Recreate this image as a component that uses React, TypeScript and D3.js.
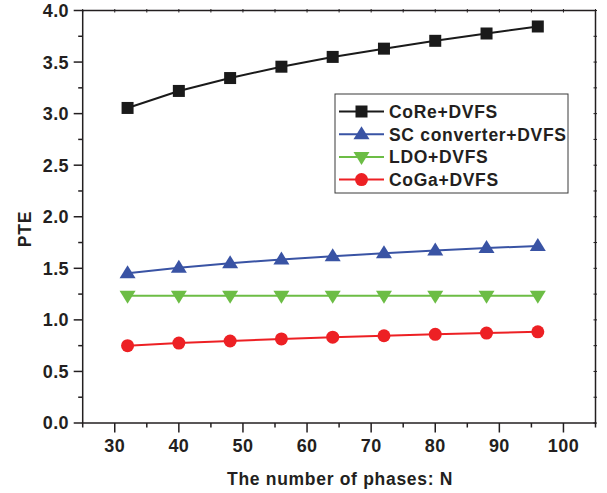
import React from "react";
import * as d3 from "d3";

const phases = [32, 40, 48, 56, 64, 72, 80, 88, 96];
const coreDvfs = [3.055, 3.22, 3.345, 3.455, 3.55, 3.63, 3.706, 3.777, 3.845];
const scDvfs = [1.453, 1.505, 1.55, 1.585, 1.618, 1.647, 1.673, 1.697, 1.717];
const ldoDvfs = [1.235, 1.235, 1.235, 1.235, 1.235, 1.235, 1.235, 1.235, 1.235];
const cogaDvfs = [0.75, 0.775, 0.795, 0.815, 0.832, 0.846, 0.86, 0.872, 0.884];
const xTicks = [30, 40, 50, 60, 70, 80, 90, 100];
const yTicks = [0, 0.5, 1, 1.5, 2, 2.5, 3, 3.5, 4];
const seriesNames = ["CoRe+DVFS", "SC converter+DVFS", "LDO+DVFS", "CoGa+DVFS"];

const W = 607;
const H = 493;
const L = 82.7, R = 595.5, T = 10.5, B = 423;
const FONT = "'Liberation Sans', Arial, Helvetica, sans-serif";
const AX = "#231f20";

type Shape = "square" | "up" | "down" | "circle";
const series: { name: string; values: number[]; color: string; shape: Shape }[] = [
  { name: seriesNames[0], values: coreDvfs, color: "#1a1a1a", shape: "square" },
  { name: seriesNames[1], values: scDvfs, color: "#3953a4", shape: "up" },
  { name: seriesNames[2], values: ldoDvfs, color: "#6cbd45", shape: "down" },
  { name: seriesNames[3], values: cogaDvfs, color: "#ed2024", shape: "circle" },
];

function Marker({ shape, x, y, color }: { shape: Shape; x: number; y: number; color: string }) {
  if (shape === "square") return <rect x={x - 6} y={y - 6} width={12} height={12} fill={color} />;
  if (shape === "circle") return <circle cx={x} cy={y} r={6.5} fill={color} />;
  if (shape === "up")
    return <path d={`M${x},${y - 8}L${x + 8},${y + 5}L${x - 8},${y + 5}Z`} fill={color} />;
  return <path d={`M${x},${y + 8}L${x + 8},${y - 5}L${x - 8},${y - 5}Z`} fill={color} />;
}

export default function App() {
  const x = d3.scaleLinear().domain([25, 105]).range([L, R]);
  const y = d3.scaleLinear().domain([0, 4]).range([B, T]);
  const xMinor = d3.range(25, 106, 5);
  const yMinor = d3.range(0, 4.01, 0.25);
  const line = d3
    .line<number>()
    .x((_, i) => x(phases[i]))
    .y((d) => y(d));

  const legX = 335, legY = 94, legW = 233, legH = 99;
  const legRow0 = 111.5, legStep = 22.7;

  return (
    <svg
      width={W}
      height={H}
      style={{ position: "absolute", left: 0, top: 0, background: "#fff" }}
      fontFamily={FONT}
    >
      <rect x={L} y={T} width={R - L} height={B - T} fill="none" stroke={AX} strokeWidth={1.5} />
      {yMinor.map((v) => {
        const major = Math.abs(v * 2 - Math.round(v * 2)) < 1e-6;
        return (
          <g key={"yl" + v}>
            <line x1={L} x2={L - (major ? 9 : 4.5)} y1={y(v)} y2={y(v)} stroke={AX} strokeWidth={1.5} />
            <line x1={R - 2} x2={R + 1.5} y1={y(v)} y2={y(v)} stroke={AX} strokeWidth={1} />
          </g>
        );
      })}
      {yTicks.map((v) => (
        <text
          key={"yt" + v}
          x={69}
          y={y(v)}
          dy="0.36em"
          textAnchor="end"
          fontSize={18}
          fontWeight="bold"
          letterSpacing={0.4}
          fill={AX}
        >
          {d3.format(".1f")(v)}
        </text>
      ))}
      {xMinor.map((v) => {
        const major = v % 10 === 0;
        return (
          <g key={"xb" + v}>
            <line x1={x(v)} x2={x(v)} y1={B} y2={B + (major ? 9.5 : 4.5)} stroke={AX} strokeWidth={1.5} />
            <line x1={x(v)} x2={x(v)} y1={T - 1.5} y2={T + 2} stroke={AX} strokeWidth={1} />
          </g>
        );
      })}
      {xTicks.map((v) => (
        <text
          key={"xt" + v}
          x={x(v)}
          y={452}
          textAnchor="middle"
          fontSize={18}
          fontWeight="bold"
          letterSpacing={0.4}
          fill={AX}
        >
          {v}
        </text>
      ))}
      <text
        x={(L + R) / 2 + 1}
        y={485}
        textAnchor="middle"
        fontSize={17.5}
        fontWeight="bold"
        letterSpacing={0.7}
        fill={AX}
      >
        The number of phases: N
      </text>
      <text
        transform={`translate(31,229) rotate(-90)`}
        textAnchor="middle"
        fontSize={17.5}
        fontWeight="bold"
        letterSpacing={0.8}
        fill={AX}
      >
        PTE
      </text>

      {series.map((s) => (
        <g key={s.name}>
          <path d={line(s.values) || ""} fill="none" stroke={s.color} strokeWidth={2} />
          {s.values.map((v, i) => (
            <Marker key={i} shape={s.shape} x={x(phases[i])} y={y(v)} color={s.color} />
          ))}
        </g>
      ))}

      <rect x={legX} y={legY} width={legW} height={legH} fill="#fff" stroke="#3a3a3a" strokeWidth={1} />
      {series.map((s, i) => {
        const cy = legRow0 + i * legStep;
        return (
          <g key={"lg" + s.name}>
            <line x1={339} x2={384} y1={cy} y2={cy} stroke={s.color} strokeWidth={2} />
            <Marker shape={s.shape} x={361.5} y={cy} color={s.color} />
            <text
              x={389}
              y={cy}
              dy="0.36em"
              fontSize={17.5}
              fontWeight="bold"
              letterSpacing={0.7}
              fill={AX}
            >
              {s.name}
            </text>
          </g>
        );
      })}
    </svg>
  );
}
